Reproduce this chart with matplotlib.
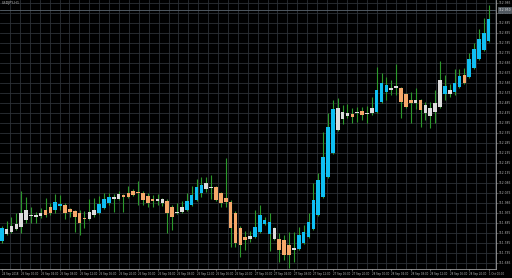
import numpy as np
import matplotlib
matplotlib.use("Agg")
import matplotlib.pyplot as plt

symbol = "USDJPY,H1"

opens = [111.795, 111.830, 111.840, 111.855, 111.865, 111.900, 111.920, 111.915, 111.920, 111.950,
         111.965, 111.950, 111.970, 111.975, 111.955, 111.945, 111.935, 111.910, 111.905, 111.925,
         111.935, 111.960, 111.985, 112.005, 112.005, 112.025, 112.035, 112.045, 112.040, 112.035,
         112.020, 112.005, 111.995, 111.985, 111.995, 111.965, 111.935, 111.940, 111.950, 111.975,
         112.000, 112.035, 112.055, 112.060, 112.065, 112.035, 112.010, 111.990, 111.935, 111.860,
         111.815, 111.805, 111.815, 111.840, 111.880, 111.830, 111.860, 111.805, 111.800, 111.775,
         111.750, 111.755, 111.785, 111.815, 111.855, 111.925, 112.015, 112.115, 112.235, 112.460,
         112.405, 112.420, 112.430, 112.433, 112.445, 112.432, 112.435, 112.440, 112.490, 112.540,
         112.550, 112.560, 112.560, 112.530, 112.500, 112.485, 112.500, 112.435, 112.420, 112.440,
         112.465, 112.530, 112.530, 112.540, 112.565, 112.625, 112.615, 112.660, 112.705, 112.750,
         112.795]
highs = [111.870, 111.895, 111.915, 111.935, 112.045, 112.015, 111.965, 111.940, 111.960, 112.010,
         111.985, 112.030, 112.025, 111.985, 111.960, 111.950, 111.950, 111.945, 112.005, 112.010,
         112.020, 112.035, 112.035, 112.030, 112.045, 112.030, 112.070, 112.055, 112.095, 112.045,
         112.035, 112.025, 112.030, 112.010, 112.005, 111.975, 111.985, 111.995, 112.035, 112.070,
         112.105, 112.115, 112.115, 112.125, 112.070, 112.040, 112.210, 112.000, 111.945, 111.870,
         111.845, 111.845, 111.950, 111.975, 111.915, 111.935, 111.865, 111.835, 111.825, 111.840,
         111.840, 111.865, 111.875, 111.935, 112.085, 112.135, 112.340, 112.435, 112.500, 112.510,
         112.475, 112.480, 112.460, 112.465, 112.465, 112.470, 112.515, 112.665, 112.635, 112.615,
         112.600, 112.680, 112.565, 112.535, 112.540, 112.560, 112.505, 112.490, 112.490, 112.550,
         112.695, 112.625, 112.580, 112.655, 112.655, 112.660, 112.735, 112.785, 112.855, 112.910,
         112.975]
lows = [111.785, 111.825, 111.835, 111.850, 111.835, 111.885, 111.885, 111.885, 111.910, 111.915,
        111.925, 111.935, 111.950, 111.905, 111.915, 111.840, 111.825, 111.860, 111.900, 111.915,
        111.930, 111.955, 111.975, 111.940, 112.000, 111.940, 112.010, 112.020, 111.975, 111.975,
        111.965, 111.965, 111.975, 111.970, 111.835, 111.850, 111.930, 111.935, 111.945, 111.970,
        111.995, 112.015, 112.040, 112.005, 111.995, 111.965, 111.965, 111.765, 111.765, 111.715,
        111.750, 111.790, 111.810, 111.835, 111.875, 111.745, 111.800, 111.690, 111.700, 111.660,
        111.690, 111.750, 111.780, 111.810, 111.850, 111.920, 112.010, 112.110, 112.230, 112.345,
        112.380, 112.410, 112.385, 112.390, 112.400, 112.385, 112.425, 112.435, 112.485, 112.500,
        112.525, 112.525, 112.410, 112.460, 112.385, 112.455, 112.365, 112.400, 112.360, 112.385,
        112.460, 112.500, 112.515, 112.525, 112.560, 112.580, 112.610, 112.655, 112.700, 112.745,
        112.790]
closes = [111.860, 111.855, 111.870, 111.880, 111.935, 111.950, 111.925, 111.925, 111.935, 111.925,
          111.935, 111.990, 111.980, 111.935, 111.940, 111.915, 111.885, 111.905, 111.940, 111.950,
          111.980, 112.005, 112.015, 112.015, 112.030, 112.015, 112.015, 112.025, 112.035, 112.000,
          111.985, 111.995, 112.005, 112.005, 111.935, 111.915, 111.940, 111.965, 111.995, 112.025,
          112.065, 112.075, 112.085, 112.065, 112.000, 111.985, 111.990, 111.860, 111.785, 111.775,
          111.800, 111.820, 111.865, 111.925, 111.900, 111.890, 111.805, 111.750, 111.725, 111.725,
          111.760, 111.825, 111.840, 111.890, 112.000, 112.100, 112.215, 112.365, 112.455, 112.350,
          112.440, 112.435, 112.415, 112.437, 112.425, 112.437, 112.460, 112.550, 112.585, 112.575,
          112.560, 112.570, 112.490, 112.465, 112.485, 112.500, 112.450, 112.475, 112.460, 112.485,
          112.600, 112.570, 112.550, 112.585, 112.620, 112.585, 112.705, 112.755, 112.805, 112.835,
          112.905]
# c = cyan, o = orange, w = white body
body_codes = list("cwwwwwwwwo" "occoooooww" "cccwwooooo" "oowwoowwcc" "ccwwoooooo"
                  "owccccwooo" "wccccccccw" "wwowowwccc" "wwooowowww" "wcwccocccc" "c")
time_labels = ["24 Sep 2018", "25 Sep 00:00", "25 Sep 04:00", "25 Sep 08:00", "25 Sep 12:00",
               "25 Sep 16:00", "25 Sep 20:00", "26 Sep 00:00", "26 Sep 04:00", "26 Sep 08:00",
               "26 Sep 12:00", "26 Sep 16:00", "26 Sep 20:00", "27 Sep 00:00", "27 Sep 04:00",
               "27 Sep 08:00", "27 Sep 12:00", "27 Sep 16:00", "27 Sep 20:00", "28 Sep 00:00",
               "28 Sep 04:00", "28 Sep 08:00", "28 Sep 12:00", "28 Sep 16:00", "28 Sep 20:00",
               "1 Oct 00:00"]
bid_price = 112.950

palette = {"c": "#10bff2", "o": "#f5a86a", "w": "#dcdcdc"}
wick_col = "#2c9a2c"
txt_col = "#b8b8b8"

fig = plt.figure(figsize=(5.12, 2.78), dpi=100, facecolor="black")
ax = fig.add_axes([0, 9 / 278, 496 / 512, 269 / 278], facecolor="black")

x = np.arange(len(opens))
o = np.array(opens)
c = np.array(closes)
ax.vlines(x, lows, highs, color=wick_col, lw=0.8, zorder=2)
bottoms = np.minimum(o, c)
heights = np.maximum(np.abs(c - o), 0.005)
ax.bar(x, heights, bottom=bottoms, width=0.74, color=[palette[k] for k in body_codes],
       linewidth=0, zorder=3)

# bid line + price box
ax.axhline(bid_price, color="#5c6670", lw=0.6, zorder=1)
ax.annotate(f"{bid_price:.3f}", xy=(1.0, bid_price), xycoords=("axes fraction", "data"),
            xytext=(1.6, 0), textcoords="offset points", va="center", ha="left",
            fontsize=2.2, color="#e8e8e8", annotation_clip=False,
            bbox=dict(boxstyle="square,pad=0.2", fc="#505860", ec="#707880", lw=0.4))

ax.set_xlim(-0.35, 101.5)
ax.set_ylim(111.655, 113.0)

# y axis on the right
yt = np.arange(112.985, 111.66, -0.05)
ax.yaxis.tick_right()
ax.set_yticks(yt)
ax.set_yticklabels([f"{v:.3f}" for v in yt])
ax.tick_params(axis="y", colors="#909090", labelcolor=txt_col, labelsize=2.2,
               length=1.2, width=0.4, pad=0.8)

# time axis
ax.set_xticks(np.arange(0, len(opens), 4))
ax.set_xticklabels(time_labels)
plt.setp(ax.get_xticklabels(), ha="left")
ax.tick_params(axis="x", colors="#909090", labelcolor=txt_col, labelsize=1.9,
               length=1.5, width=0.4, pad=0.8)

# fine grid every ~10 px
gx = (10 + 9.92 * np.arange(50) - 1.7) / 4.876
ax.set_xticks(gx, minor=True)
ax.tick_params(axis="x", which="minor", length=0)
ax.grid(True, axis="x", which="minor", color="#2c3036", lw=0.6)
ax.grid(True, axis="y", which="major", color="#2c3036", lw=0.6)
ax.set_axisbelow(True)

for s in ["top", "left"]:
    ax.spines[s].set_visible(False)
for s in ["right", "bottom"]:
    ax.spines[s].set_color("#a0a0a0")
    ax.spines[s].set_linewidth(0.6)

ax.text(0.004, 0.997, symbol, transform=ax.transAxes, va="top", ha="left",
        fontsize=2.4, color=txt_col)

fig.savefig("out.png", dpi=100, facecolor="black")
